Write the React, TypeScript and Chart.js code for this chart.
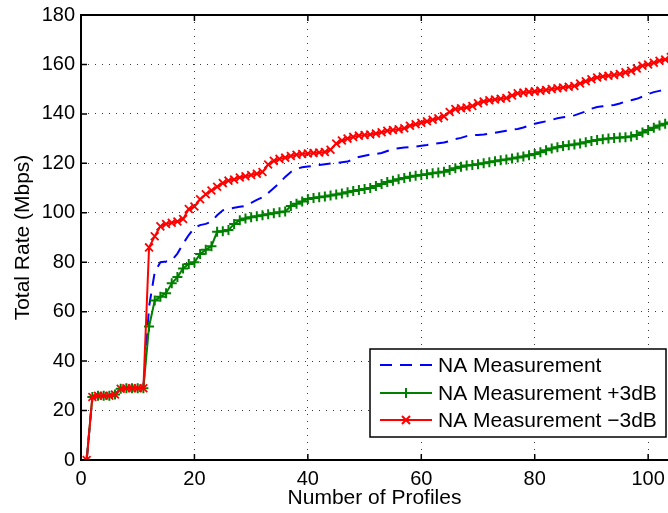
import React, { useEffect, useRef } from 'react';
import { Chart, registerables } from 'chart.js';

Chart.register(...registerables);

// Tick values (axis labels)
const xTickValues = [0, 20, 40, 60, 80, 100];
const yTickValues = [0, 20, 40, 60, 80, 100, 120, 140, 160, 180];

// Series values, one per profile (profile 1, 2, 3, ...)
const naMeasurement = [
  0, 25.5, 26, 26, 26, 26.5, 28.8, 29, 29, 29, 29,
  62, 76, 80, 80.3, 80.8, 83.5, 87.5, 91, 94, 95,
  95.5, 96.5, 99, 101, 101.6, 102, 102.4, 102.8, 104, 105.2,
  106.3, 108, 110, 112, 114.5, 116.5, 117.8, 118.4, 118.7, 119,
  119.3, 119.6, 119.9, 120.1, 120.4, 120.7, 121.6, 122.6, 123.1, 123.5,
  123.8, 124.2, 125, 125.7, 126.1, 126.4, 126.6, 126.8, 127.1, 127.4,
  127.8, 128.1, 128.4, 129, 129.8, 130.3, 131, 131.4, 131.5, 131.7,
  132, 132.4, 132.8, 133.2, 133.6, 133.9, 134.5, 135.3, 136, 136.5,
  137, 137.6, 138.2, 138.6, 139, 139.4, 140.2, 141, 142.1, 142.8,
  143.1, 143.4, 143.6, 144.2, 145, 145.5, 146.1, 147, 148, 148.8,
  149.3, 149.8, 150.3,
];

const naPlus3dB = [
  0, 25.5, 26, 26, 26, 26.5, 28.8, 29, 29, 29, 29,
  54, 64.5, 66, 67.5, 71.5, 74, 77.5, 79.3, 80, 83.3,
  85, 86.5, 92.3, 92.5, 93, 95.5, 97, 97.7, 98.2, 98.6,
  99, 99.4, 99.8, 100.2, 100.5, 102.7, 103.7, 104.6, 105.6, 106,
  106.3, 106.6, 107, 107.4, 107.8, 108.3, 108.8, 109.2, 109.6, 110,
  110.8, 111.6, 112.4, 113, 113.6, 114.1, 114.6, 115, 115.3, 115.6,
  116, 116.3, 116.6, 117.3, 118, 118.6, 119.1, 119.3, 119.6, 120,
  120.4, 120.8, 121.2, 121.6, 122, 122.4, 122.8, 123.3, 123.8, 124.5,
  125.3, 126, 126.5, 127, 127.3, 127.6, 128, 128.5, 129, 129.4,
  129.7, 130, 130.2, 130.4, 130.6, 130.9, 131.5, 132.5, 133.5, 134.4,
  135.3, 136, 136.5,
];

const naMinus3dB = [
  0, 25.5, 26, 26, 26, 26.5, 28.8, 29, 29, 29, 29,
  86, 90.5, 94.5, 95.5, 96, 96.5, 97.5, 101.5, 102.5, 105.5,
  107.5, 109, 110.5, 112, 113, 113.5, 114.3, 114.8, 115.3, 115.8,
  116.5, 119.5, 121, 121.8, 122.3, 123, 123.5, 123.8, 124, 124.2,
  124.4, 124.6, 125.5, 128, 129.2, 130, 130.7, 131.2, 131.5, 131.7,
  132.1, 132.6, 133.2, 133.5, 133.8, 134.2, 135.2, 135.8, 136.4, 137,
  137.6, 138.2, 139, 140.8, 142, 142.3, 142.6, 143.2, 144.3, 145,
  145.5, 145.8, 146.1, 146.4, 147.4, 148.3, 148.6, 148.9, 149.1, 149.4,
  149.7, 150.1, 150.4, 150.7, 151, 151.3, 152.3, 153.2, 154, 154.7,
  155.1, 155.4, 155.7, 156.1, 156.8, 157.4, 158.4, 159.5, 160, 160.7,
  161.5, 162, 163,
];

const seriesLabels = ['NA Measurement', 'NA Measurement +3dB', 'NA Measurement \u22123dB'];
const seriesColors = ['#0000ff', '#008000', '#ff0000'];
const xAxisTitle = 'Number of Profiles';
const yAxisTitle = 'Total Rate (Mbps)';

const FONT = '"Liberation Sans", Arial, Helvetica, sans-serif';

const toPoints = (vals: number[]) => vals.map((y, i) => ({ x: i + 1, y }));

const framePlugin = {
  id: 'matlabFrame',
  afterDatasetsDraw(chart: any) {
    const { ctx, chartArea: a, scales } = chart;
    ctx.save();
    ctx.strokeStyle = '#000';
    ctx.lineWidth = 1.5;
    ctx.beginPath();
    xTickValues.forEach((v) => {
      const px = scales.x.getPixelForValue(v);
      ctx.moveTo(px, a.bottom);
      ctx.lineTo(px, a.bottom - 6);
      ctx.moveTo(px, a.top);
      ctx.lineTo(px, a.top + 6);
    });
    yTickValues.forEach((v) => {
      const py = scales.y.getPixelForValue(v);
      ctx.moveTo(a.left, py);
      ctx.lineTo(a.left + 6, py);
    });
    ctx.stroke();
    ctx.lineWidth = 2;
    ctx.beginPath();
    ctx.moveTo(a.right + 2, a.top);
    ctx.lineTo(a.left, a.top);
    ctx.lineTo(a.left, a.bottom);
    ctx.lineTo(a.right + 2, a.bottom);
    ctx.stroke();
    ctx.restore();
  },
  afterDraw(chart: any) {
    const { ctx, chartArea: a } = chart;
    const left = a.right - 298;
    const top = a.bottom - 111;
    const w = 296;
    const h = 88;
    ctx.save();
    ctx.fillStyle = '#fff';
    ctx.fillRect(left, top, w, h);
    ctx.strokeStyle = '#000';
    ctx.lineWidth = 1.5;
    ctx.strokeRect(left, top, w, h);
    const rows = [16, 44, 71];
    ctx.font = `21px ${FONT}`;
    ctx.textBaseline = 'middle';
    ctx.textAlign = 'left';
    rows.forEach((dy, i) => {
      const y = top + dy;
      const x0 = left + 10;
      const x1 = left + 62;
      const xm = (x0 + x1) / 2;
      ctx.strokeStyle = seriesColors[i];
      ctx.lineWidth = 2;
      ctx.setLineDash(i === 0 ? [12, 8] : []);
      ctx.beginPath();
      ctx.moveTo(x0, y);
      ctx.lineTo(x1, y);
      ctx.stroke();
      ctx.setLineDash([]);
      if (i === 1) {
        ctx.beginPath();
        ctx.moveTo(xm - 5, y);
        ctx.lineTo(xm + 5, y);
        ctx.moveTo(xm, y - 5);
        ctx.lineTo(xm, y + 5);
        ctx.stroke();
      } else if (i === 2) {
        ctx.beginPath();
        ctx.moveTo(xm - 4, y - 4);
        ctx.lineTo(xm + 4, y + 4);
        ctx.moveTo(xm - 4, y + 4);
        ctx.lineTo(xm + 4, y - 4);
        ctx.stroke();
      }
      ctx.fillStyle = '#000';
      ctx.fillText(seriesLabels[i], left + 68, y + 1);
    });
    ctx.restore();
  },
};

export default function App() {
  const canvasRef = useRef<HTMLCanvasElement | null>(null);

  useEffect(() => {
    document.body.style.margin = '0';
    const canvas = canvasRef.current;
    if (!canvas) return;
    const chart = new Chart(canvas, {
      type: 'line',
      data: {
        datasets: [
          {
            label: seriesLabels[0],
            data: toPoints(naMeasurement),
            borderColor: seriesColors[0],
            borderWidth: 2,
            borderDash: [12, 8],
            pointRadius: 0,
            tension: 0,
            fill: false,
            order: 3,
          },
          {
            label: seriesLabels[1],
            data: toPoints(naPlus3dB),
            borderColor: seriesColors[1],
            borderWidth: 2,
            pointStyle: 'cross',
            pointRadius: 5,
            pointBorderWidth: 2,
            pointBorderColor: seriesColors[1],
            pointBackgroundColor: seriesColors[1],
            tension: 0,
            fill: false,
            order: 2,
          },
          {
            label: seriesLabels[2],
            data: toPoints(naMinus3dB),
            borderColor: seriesColors[2],
            borderWidth: 2,
            pointStyle: 'crossRot',
            pointRadius: 5.5,
            pointBorderWidth: 1.8,
            pointBorderColor: seriesColors[2],
            pointBackgroundColor: seriesColors[2],
            tension: 0,
            fill: false,
            order: 1,
          },
        ],
      },
      options: {
        animation: false,
        responsive: false,
        maintainAspectRatio: false,
        events: [],
        layout: { autoPadding: false, padding: { top: 15, right: 0, left: 0, bottom: 0 } },
        plugins: {
          legend: { display: false },
          tooltip: { enabled: false },
          title: { display: false },
        },
        scales: {
          x: {
            type: 'linear',
            min: 0,
            max: 103.5,
            afterBuildTicks: (scale: any) => {
              scale.ticks = xTickValues.map((v) => ({ value: v }));
            },
            afterFit: (scale: any) => {
              scale.height = 53;
              scale.paddingLeft = 0;
              scale.paddingRight = 0;
            },
            ticks: {
              autoSkip: false,
              maxRotation: 0,
              padding: 7,
              color: '#000',
              font: { family: FONT, size: 20 },
            },
            grid: {
              drawTicks: false,
              lineWidth: 1,
              color: (c: any) => (c.tick && c.tick.value === 0 ? 'rgba(0,0,0,0)' : '#3a3a3a'),
            },
            border: { display: false, dash: [1, 6] },
            title: {
              display: true,
              text: xAxisTitle,
              color: '#000',
              font: { family: FONT, size: 21 },
              padding: { top: 0, bottom: 2 },
            },
          },
          y: {
            type: 'linear',
            min: 0,
            max: 180,
            afterBuildTicks: (scale: any) => {
              scale.ticks = yTickValues.map((v) => ({ value: v }));
            },
            afterFit: (scale: any) => {
              scale.width = 81;
              scale.paddingTop = 0;
              scale.paddingBottom = 0;
            },
            ticks: {
              autoSkip: false,
              padding: 6,
              color: '#000',
              font: { family: FONT, size: 20 },
            },
            grid: {
              drawTicks: false,
              lineWidth: 1,
              color: (c: any) =>
                c.tick && (c.tick.value === 0 || c.tick.value === 180) ? 'rgba(0,0,0,0)' : '#3a3a3a',
            },
            border: { display: false, dash: [1, 6] },
            title: {
              display: true,
              text: yAxisTitle,
              color: '#000',
              font: { family: FONT, size: 21 },
              padding: { top: 11, bottom: 0 },
            },
          },
        },
      },
      plugins: [framePlugin],
    });
    return () => chart.destroy();
  }, []);

  return (
    <div style={{ width: 668, height: 513, background: '#fff' }}>
      <canvas ref={canvasRef} width={668} height={513} style={{ display: 'block' }} />
    </div>
  );
}
